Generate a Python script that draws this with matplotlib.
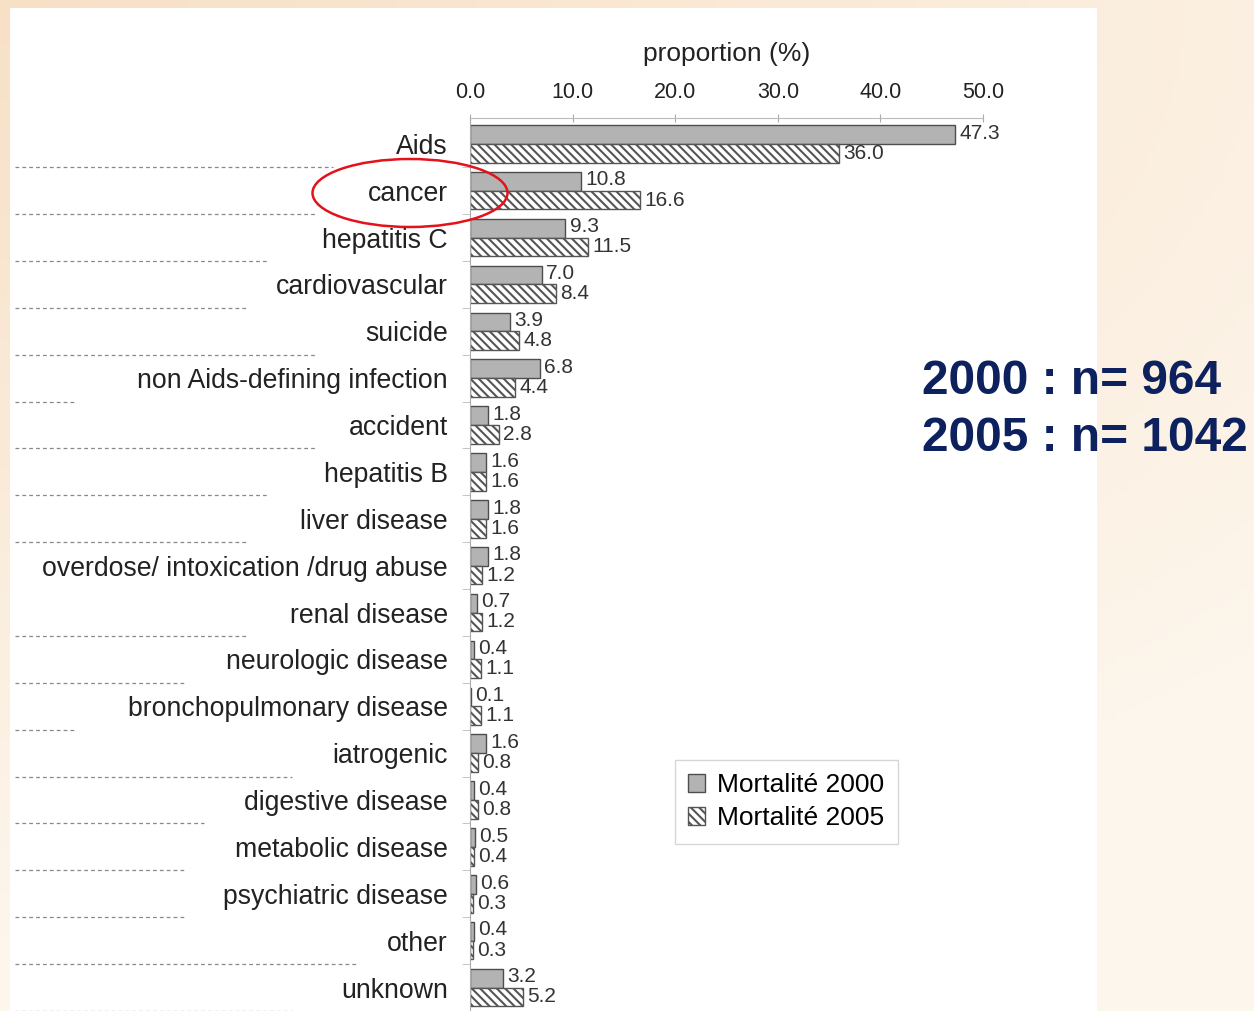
import numpy as np
import matplotlib
matplotlib.use('Agg')
import matplotlib.pyplot as plt
from matplotlib.patches import Ellipse, Rectangle, Patch
from matplotlib.transforms import blended_transform_factory

plt.rcParams['font.family'] = ['Liberation Sans', 'DejaVu Sans']
plt.rcParams['hatch.linewidth'] = 1.5

# data
causes = ['Aids', 'cancer', 'hepatitis C', 'cardiovascular', 'suicide',
          'non Aids-defining infection', 'accident', 'hepatitis B',
          'liver disease', 'overdose/ intoxication /drug abuse',
          'renal disease', 'neurologic disease', 'bronchopulmonary disease',
          'iatrogenic', 'digestive disease', 'metabolic disease',
          'psychiatric disease', 'other', 'unknown']
mort_2000 = [47.3, 10.8, 9.3, 7.0, 3.9, 6.8, 1.8, 1.6, 1.8, 1.8,
             0.7, 0.4, 0.1, 1.6, 0.4, 0.5, 0.6, 0.4, 3.2]
mort_2005 = [36.0, 16.6, 11.5, 8.4, 4.8, 4.4, 2.8, 1.6, 1.6, 1.2,
             1.2, 1.1, 1.1, 0.8, 0.8, 0.4, 0.3, 0.3, 5.2]
xticks = [0, 10, 20, 30, 40, 50]

# leftover table rules on the left of the labels (end x in pixels, 0 = none)
rule_ends = [333, 315, 268, 248, 315, 75, 315, 268, 248, 0,
             248, 185, 75, 292, 204, 185, 185, 357, 292]

W, H = 1254, 1011
fig = plt.figure(figsize=(W / 100, H / 100), dpi=100)

# soft slide background
bg = fig.add_axes([0, 0, 1, 1], zorder=-10)
gx, gy = np.meshgrid(np.linspace(0, 1, 200), np.linspace(0, 1, 160))
warm = np.clip(1.0 - 0.9 * np.hypot(gx * 0.8, gy * 1.2), 0, 1)
c_light = np.array([253, 246, 236]) / 255
c_warm = np.array([247, 224, 198]) / 255
img = c_light[None, None, :] * (1 - warm[..., None]) + c_warm[None, None, :] * warm[..., None]
bg.imshow(img, aspect='auto', extent=[0, 1, 0, 1], origin='upper')
bg.axis('off')
fig.patches.append(Rectangle((10 / W, 0), (1097 - 10) / W, (1011 - 8) / H,
                             transform=fig.transFigure, facecolor='white',
                             edgecolor='none', zorder=-5))

ax = fig.add_axes([470 / W, 0, (983 - 470) / W, (1011 - 118) / H])
ax.set_facecolor('none')
y = np.arange(len(causes))
h = 0.4
hatch = '\\' * 4
ax.barh(y - h / 2, mort_2000, height=h, color='#b3b3b3',
        edgecolor='#4d4d4d', linewidth=1.0, label='Mortalité 2000')
ax.barh(y + h / 2, mort_2005, height=h, color='white',
        edgecolor='#555555', linewidth=1.0, hatch=hatch,
        label='Mortalité 2005')

for yi, v in zip(y, mort_2000):
    ax.annotate(f'{v:.1f}', (v, yi - h / 2), xytext=(3, 1), textcoords='offset points',
                va='center', ha='left', fontsize=15, color='#333333')
for yi, v in zip(y, mort_2005):
    ax.annotate(f'{v:.1f}', (v, yi + h / 2), xytext=(3, 0), textcoords='offset points',
                va='center', ha='left', fontsize=15, color='#333333')

ax.set_xlim(0, 50)
ax.set_ylim(len(causes) - 0.55, -0.55)
ax.xaxis.tick_top()
ax.xaxis.set_label_position('top')
ax.set_xticks(xticks)
ax.set_xticklabels([f'{t:.1f}' for t in xticks], fontsize=15.5, color='#222222')
ax.tick_params(axis='x', direction='inout', length=6, color='#aaaaaa', pad=8)
ax.set_xlabel('proportion (%)', fontsize=19, color='#222222', labelpad=15)

ax.set_yticks(y)
ax.set_yticklabels(causes, fontsize=19.2, color='#222222')
ax.tick_params(axis='y', length=0, pad=16)
ax.set_yticks(np.arange(len(causes)) + 0.5, minor=True)
ax.tick_params(axis='y', which='minor', length=6, color='#bbbbbb')

for s in ['right', 'bottom']:
    ax.spines[s].set_visible(False)
ax.spines['top'].set_color('#bbbbbb')
ax.spines['left'].set_color('#aaaaaa')

trans = blended_transform_factory(fig.transFigure, ax.transData)
for i, xe in enumerate(rule_ends):
    if xe:
        ax.plot([15 / W, xe / W], [i + 0.5, i + 0.5], transform=trans,
                color='#888888', lw=0.9, ls=(0, (3, 2.5)), clip_on=False)

handles = [Patch(facecolor='#b3b3b3', edgecolor='#4d4d4d', label='Mortalité 2000'),
           Patch(facecolor='white', edgecolor='#555555', hatch=hatch, label='Mortalité 2005')]
leg = fig.legend(handles=handles, loc='upper left', bbox_to_anchor=(675 / W, 1 - 760 / H),
                 fontsize=19, frameon=True, fancybox=False, handlelength=0.65,
                 handleheight=0.65, handletextpad=0.45, borderpad=0.5, labelspacing=0.35,
                 borderaxespad=0)
leg.get_frame().set_edgecolor('#cccccc')
leg.get_frame().set_linewidth(1.0)

fig.patches.append(Ellipse((410 / W, 1 - 193 / H), 195 / W, 68 / H,
                           transform=fig.transFigure, fill=False,
                           edgecolor='#e3121b', linewidth=1.8, zorder=10))

fig.text(922 / W, 1 - 381 / H, '2000 : n= 964', fontsize=34.5, fontweight='bold',
         color='#0c215e', va='center', ha='left')
fig.text(922 / W, 1 - 438 / H, '2005 : n= 1042', fontsize=34.5, fontweight='bold',
         color='#0c215e', va='center', ha='left')

fig.savefig('out.png', dpi=100)
